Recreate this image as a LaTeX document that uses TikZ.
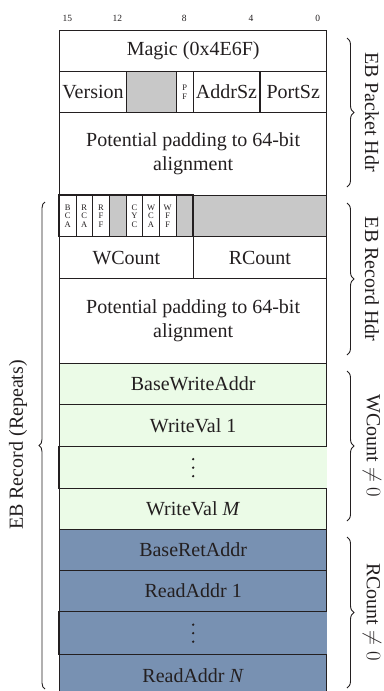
\documentclass[tikz,border=0pt]{standalone}
\usepackage{fontspec}
\setmainfont{Liberation Serif}
\usetikzlibrary{decorations.pathreplacing}
\definecolor{wgreen}{HTML}{EBFBE7}
\definecolor{rblue}{HTML}{7891B2}
\definecolor{rsvgray}{HTML}{C8C8C8}
\definecolor{ink}{HTML}{231F20}
\newcommand{\bigf}{\fontsize{20}{24}\selectfont}
\newcommand{\tinyf}{\fontsize{8.5}{8.5}\selectfont}
\tikzset{
  fld/.style={draw=ink, line width=1.3pt, inner sep=0pt, anchor=north west,
    font=\bigf, text=ink, align=center, minimum height=41pt},
  flag/.style={draw=ink, line width=0.5pt, inner sep=0pt, anchor=north west,
    font=\tinyf, text=ink, align=center, minimum width=16.69pt, minimum height=41pt},
  bitnum/.style={font=\fontsize{9.5}{10}\selectfont, text=ink, inner sep=0pt},
  brc/.style={decorate, decoration={brace, amplitude=7pt}, line width=0.9pt, draw=ink},
  sidelbl/.style={font=\bigf, text=ink, inner sep=0pt}
}
% three stacked dots centred on a row
\newcommand{\rowdots}[1]{%
  \foreach \dy in {-8.5,0,8.5}
    \fill[ink] ([yshift=-\dy pt]#1.center) circle (1.3pt);}
\begin{document}
\begin{tikzpicture}[x=1pt,y=-1pt]
\useasboundingbox (0,0) rectangle (383,691);
\clip (0,0) rectangle (383,691);

% bit numbers
\foreach \b/\xx in {15/67.3, 12/117.4, 8/184.2, 4/250.9, 0/317.7}
  \node[bitnum] (bit\b) at (\xx,18) {\b};

% EB packet header
\node[fld, minimum width=267pt] (magic) at (59,30) {Magic (0x4E6F)};
\node[fld, minimum width=66.75pt] (version) at (59,71) {Version};
\node[fld, fill=rsvgray, minimum width=50.06pt] (rsvA) at (125.75,71) {};
\node[fld, font=\tinyf, minimum width=16.69pt] (pf) at (175.81,71) {P\\F};
\node[fld, minimum width=66.75pt] (addrsz) at (192.5,71) {AddrSz};
\node[fld, minimum width=66.75pt] (portsz) at (259.25,71) {PortSz};
\node[fld, minimum width=267pt, minimum height=83pt] (padA) at (59,112)
  {Potential padding to 64-bit\\alignment};

% EB record header: flag bits
\node[flag] (fBCA) at (59,195) {B\\C\\A};
\node[flag] (fRCA) at (75.69,195) {R\\C\\A};
\node[flag] (fRFF) at (92.38,195) {R\\F\\F};
\node[flag, fill=rsvgray] (fR1) at (109.06,195) {};
\node[flag] (fCYC) at (125.75,195) {C\\Y\\C};
\node[flag] (fWCA) at (142.44,195) {W\\C\\A};
\node[flag] (fWFF) at (159.13,195) {W\\F\\F};
\node[flag, fill=rsvgray] (fR2) at (175.81,195) {};
\node[fld, fill=rsvgray, minimum width=133.5pt] (rsvB) at (192.5,195) {};
\draw[draw=ink, line width=1.3pt] (fBCA.north west) rectangle (fR2.south east);

\node[fld, minimum width=133.5pt, minimum height=42pt] (wcount) at (59,236) {WCount};
\node[fld, minimum width=133.5pt, minimum height=42pt] (rcount) at (192.5,236) {RCount};
\node[fld, minimum width=267pt, minimum height=85pt] (padB) at (59,278)
  {Potential padding to 64-bit\\alignment};

% write section
\node[fld, fill=wgreen, minimum width=267pt] (bwa) at (59,363) {BaseWriteAddr};
\node[fld, fill=wgreen, minimum width=267pt, minimum height=42pt] (wv1) at (59,404) {WriteVal 1};
\node[fld, draw=none, fill=wgreen, minimum width=267pt, minimum height=42pt] (wdots) at (59,446) {};
\draw[draw=ink, line width=1.3pt] (wdots.north west) -- (wdots.south west);
\rowdots{wdots}
\node[fld, fill=wgreen, minimum width=267pt] (wvm) at (59,488) {WriteVal \textit{M}};

% read section
\node[fld, fill=rblue, minimum width=267pt] (bra) at (59,529) {BaseRetAddr};
\node[fld, fill=rblue, minimum width=267pt] (ra1) at (59,570) {ReadAddr 1};
\node[fld, draw=none, fill=rblue, minimum width=267pt, minimum height=43pt] (rdots) at (59,611) {};
\draw[draw=ink, line width=1.3pt] (rdots.north west) -- (rdots.south west);
\rowdots{rdots}
\node[fld, fill=rblue, minimum width=267pt] (ran) at (59,654) {ReadAddr \textit{N}};

% right-hand braces
\coordinate (pkT) at (347,38);  \coordinate (pkB) at (347,187);
\coordinate (rhT) at (347,203); \coordinate (rhB) at (347,355);
\coordinate (wcT) at (347,371); \coordinate (wcB) at (347,521);
\coordinate (rcT) at (347,537); \coordinate (rcB) at (347,688);
\draw[brc] (pkT) -- (pkB);
\draw[brc] (rhT) -- (rhB);
\draw[brc] (wcT) -- (wcB);
\draw[brc] (rcT) -- (rcB);
\node[sidelbl, rotate=-90] (pkL) at (372,112) {EB Packet Hdr};
\node[sidelbl, rotate=-90] (rhL) at (372,279) {EB Record Hdr};
\node[sidelbl, rotate=-90] (wcL) at (372,446) {WCount $\neq 0$};
\node[sidelbl, rotate=-90] (rcL) at (372,612) {RCount $\neq 0$};

% left-hand brace
\coordinate (lfB) at (45,689); \coordinate (lfT) at (45,202);
\draw[brc, decoration={brace, amplitude=6pt}] (lfB) -- (lfT);
\node[sidelbl, rotate=90] (lfL) at (18,445) {EB Record (Repeats)};
\end{tikzpicture}
\end{document}
